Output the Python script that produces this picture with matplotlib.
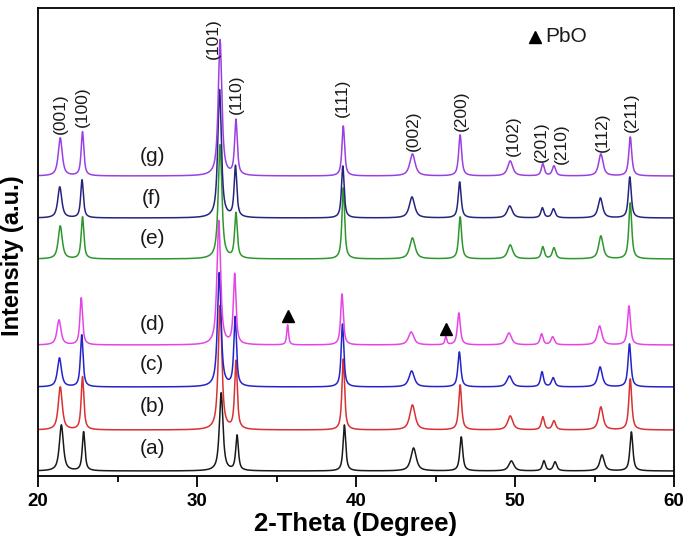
import numpy as np
import matplotlib
matplotlib.use("Agg")
import matplotlib.pyplot as plt

plt.rcParams['font.family'] = ['Liberation Sans', 'DejaVu Sans']

# ---- data ----
hkl = ['(001)', '(100)', '(101)', '(110)', '(111)', '(002)', '(200)',
       '(102)', '(201)', '(210)', '(112)', '(211)']
peak_pos = [21.4, 22.8, 31.45, 32.45, 39.2, 43.55, 46.55, 49.7, 51.75, 52.45, 55.4, 57.25]
peak_fwhm = [0.3, 0.2, 0.27, 0.2, 0.2, 0.4, 0.22, 0.38, 0.22, 0.25, 0.33, 0.22]

series_labels = ['(a)', '(b)', '(c)', '(d)', '(e)', '(f)', '(g)']
series_colors = ['#1a1a1a', '#d83232', '#2424c8', '#e645e6', '#2e962e', '#25257e', '#9b40e0']
series_offset = [5, 46, 89, 131, 217, 258, 300]
series_shift = [0.07, 0.0, -0.05, -0.08, 0.0, -0.03, 0.0]

h_a = [46, 39, 78, 35, 46, 23, 34, 10, 10, 9, 16, 39]
h_b = [43, 53, 124, 68, 71, 25, 45, 14, 13, 9, 23, 51]
h_c = [29, 52, 114, 69, 63, 16, 35, 11, 15, 9, 20, 43]
h_d = [25, 47, 124, 70, 51, 13, 32, 12, 11, 8, 19, 39]
h_e = [33, 42, 114, 45, 71, 21, 42, 14, 12, 11, 23, 56]
h_f = [31, 38, 128, 51, 52, 21, 36, 12, 10, 9, 20, 41]
h_g = [38, 44, 136, 55, 50, 22, 41, 15, 12, 10, 22, 39]
heights = [h_a, h_b, h_c, h_d, h_e, h_f, h_g]

pbo_pos = [35.7, 45.65]
pbo_height = [20, 8]
pbo_fwhm = [0.14, 0.14]

# annotation layout for hkl labels (x in degrees, bottom in data units)
hkl_label_x = [21.38, 22.77, 31.0, 32.45, 39.12, 43.58, 46.6, 49.87, 51.64, 52.9, 55.47, 57.3]
hkl_label_y = [342, 349, 417, 362, 359, 325, 345, 320, 314, 312, 324, 344]
series_label_y = [27, 70, 112, 152, 237, 278, 320]


def pvoigt(x, x0, h, w, eta=0.8):
    g = np.exp(-4 * np.log(2) * ((x - x0) / w) ** 2)
    l = 1.0 / (1.0 + 4 * ((x - x0) / w) ** 2)
    return h * (eta * l + (1 - eta) * g)


x = np.linspace(20, 60, 8001)

fig = plt.figure(figsize=(6.85, 5.40), dpi=100)
ax = fig.add_axes([38 / 685, 64 / 540, 636 / 685, 468 / 540])

for i in range(7):
    y = np.full_like(x, series_offset[i], dtype=float)
    for p, h, w in zip(peak_pos, heights[i], peak_fwhm):
        y += pvoigt(x, p + series_shift[i], h, w)
    if i == 3:
        for p, h, w in zip(pbo_pos, pbo_height, pbo_fwhm):
            y += pvoigt(x, p, h, w)
    ax.plot(x, y, color=series_colors[i], lw=1.1)
    ax.text(27.17, series_label_y[i], series_labels[i], ha='center', va='center',
            fontsize=15, color='#1a1a1a')

for lab, lx, ly in zip(hkl, hkl_label_x, hkl_label_y):
    ax.text(lx, ly, lab, rotation=90, ha='center', va='bottom', fontsize=12.5,
            color='#1a1a1a')

# PbO markers
ax.plot(pbo_pos, [series_offset[3] + 29, series_offset[3] + 16], ls='none', marker='^',
        color='black', ms=8)
ax.plot([51.25], [439], ls='none', marker='^', color='black', ms=8)
ax.text(51.9, 439, 'PbO', ha='left', va='center', fontsize=15, color='#1a1a1a')

ax.set_xlim(20, 60)
ax.set_ylim(0, 468)
ax.set_yticks([])
ax.set_xticks([20, 30, 40, 50, 60])
ax.set_xticks([25, 35, 45, 55], minor=True)
ax.tick_params(axis='x', which='major', direction='out', length=8, width=1.3,
               labelsize=13.5, pad=4)
ax.tick_params(axis='x', which='minor', direction='out', length=4, width=1.3)
for lbl in ax.get_xticklabels():
    lbl.set_fontweight('bold')
for sp in ax.spines.values():
    sp.set_linewidth(1.3)

ax.set_xlabel('2-Theta (Degree)', fontsize=18.5, fontweight='bold', labelpad=2)
ax.set_ylabel('Intensity (a.u.)', fontsize=17, fontweight='bold')
ax.yaxis.set_label_coords(-0.022, 0.47)

fig.savefig('out.png', dpi=100, facecolor='white')
